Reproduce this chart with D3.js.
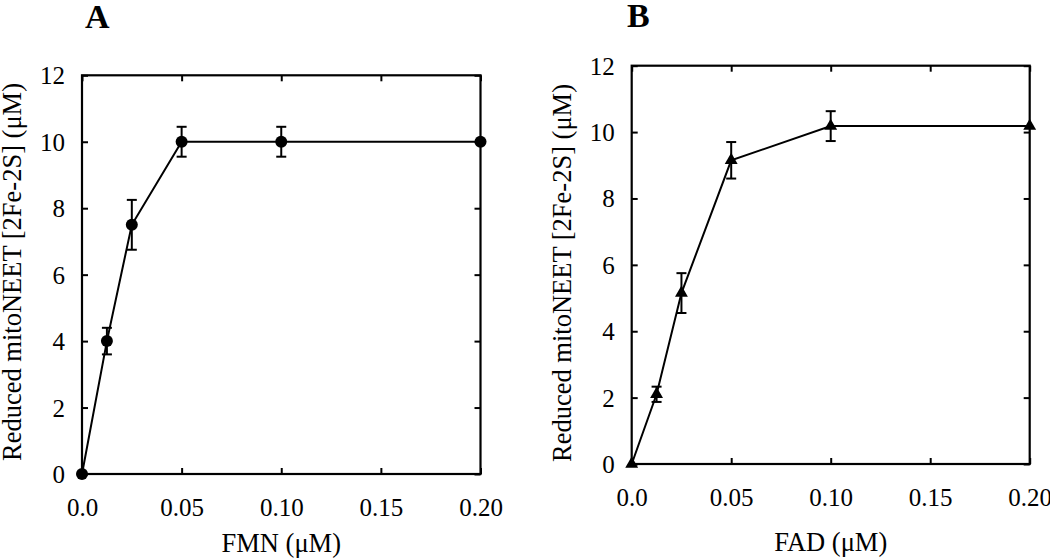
<!DOCTYPE html>
<html><head><meta charset="utf-8">
<script src="https://cdn.jsdelivr.net/npm/d3@7"></script>
<style>body{margin:0;background:#fff}svg{display:block}text{font-family:"Liberation Serif","Times New Roman",serif;fill:#000}</style>
</head><body><svg id="c" width="1050" height="558"></svg>
<script>
const xTicks = [0, 0.05, 0.10, 0.15, 0.20];
const xTickLabels = ["0.0", "0.05", "0.10", "0.15", "0.20"];
const yTicks = [0, 2, 4, 6, 8, 10, 12];
const concA = [0, 0.0125, 0.025, 0.05, 0.10, 0.20];
const valuesA = [0, 4.0, 7.5, 10.0, 10.0, 10.0];
const errorsA = [0, 0.4, 0.75, 0.45, 0.45, 0];
const concB = [0, 0.0125, 0.025, 0.05, 0.10, 0.20];
const valuesB = [0, 2.1, 5.15, 9.15, 10.18, 10.18];
const errorsB = [0, 0.23, 0.6, 0.55, 0.45, 0];
const panels = [
  {label:"A", xTitle:"FMN (\u03bcM)", x:concA, y:valuesA, e:errorsA, marker:"circle",
   box:{l:82, r:480.5, t:75.3, b:474}, labelPos:[85,28], yTitlePos:[21,272], xTitleY:552},
  {label:"B", xTitle:"FAD (\u03bcM)", x:concB, y:valuesB, e:errorsB, marker:"triangle",
   box:{l:631.7, r:1029.7, t:65.7, b:464}, labelPos:[627,27], yTitlePos:[571,273], xTitleY:551}
];
const yTitle = "Reduced mitoNEET [2Fe-2S] (\u03bcM)";
const FONT = '"Liberation Serif","Times New Roman",serif';
const svg = d3.select("#c");
panels.forEach(p => {
  const g = svg.append("g");
  const x = d3.scaleLinear().domain([0,0.2]).range([p.box.l,p.box.r]);
  const y = d3.scaleLinear().domain([0,12]).range([p.box.b,p.box.t]);
  const W = p.box.r-p.box.l, H = p.box.b-p.box.t;
  const fs = "25px";
  const ax = g.append("g").attr("transform",`translate(0,${p.box.b})`)
    .call(d3.axisBottom(x).tickValues(xTicks).tickFormat((d,i)=>xTickLabels[i]).tickSizeInner(-6).tickSizeOuter(0).tickPadding(24));
  const ay = g.append("g").attr("transform",`translate(${p.box.l},0)`)
    .call(d3.axisLeft(y).tickValues(yTicks).tickSizeInner(-6).tickSizeOuter(0).tickPadding(17));
  const at = g.append("g").attr("transform",`translate(0,${p.box.t})`)
    .call(d3.axisTop(x).tickValues(xTicks).tickFormat("").tickSizeInner(-6).tickSizeOuter(0));
  const ar = g.append("g").attr("transform",`translate(${p.box.r},0)`)
    .call(d3.axisRight(y).tickValues(yTicks).tickFormat("").tickSizeInner(-6).tickSizeOuter(0));
  [ax,ay,at,ar].forEach(a=>{a.attr("font-family",FONT);a.select(".domain").remove();
    a.selectAll("line").attr("stroke","#000").attr("stroke-width",2);
    a.selectAll("text").style("font-size",fs).attr("fill","#000");});
  ax.selectAll("text").attr("dy","0.7em");
  ay.selectAll("text").attr("dy","0.34em");
  g.append("rect").attr("x",p.box.l).attr("y",p.box.t).attr("width",W).attr("height",H)
    .attr("fill","none").attr("stroke","#000").attr("stroke-width",2.2);
  const pts = p.x.map((d,i)=>({x:d,y:p.y[i],e:p.e[i]}));
  g.append("path").datum(pts).attr("fill","none").attr("stroke","#000").attr("stroke-width",2)
    .attr("d",d3.line().x(d=>x(d.x)).y(d=>y(d.y)));
  const eb = g.selectAll(".eb").data(pts.filter(d=>d.e>0)).enter().append("g");
  eb.append("line").attr("x1",d=>x(d.x)).attr("x2",d=>x(d.x)).attr("y1",d=>y(d.y-d.e)).attr("y2",d=>y(d.y+d.e))
    .attr("stroke","#000").attr("stroke-width",2);
  [1,-1].forEach(s=>eb.append("line").attr("x1",d=>x(d.x)-5).attr("x2",d=>x(d.x)+5)
    .attr("y1",d=>y(d.y+s*d.e)).attr("y2",d=>y(d.y+s*d.e)).attr("stroke","#000").attr("stroke-width",2));
  const sym = p.marker==="circle" ? d3.symbol().type(d3.symbolCircle).size(Math.PI*6*6)
                                  : d3.symbol().type(d3.symbolTriangle).size(72);
  g.selectAll(".m").data(pts).enter().append("path")
    .attr("transform",d=>`translate(${x(d.x)},${y(d.y)})`).attr("d",sym).attr("fill","#000");
  g.append("text").attr("x",(p.box.l+p.box.r)/2).attr("y",p.xTitleY).attr("text-anchor","middle")
    .style("font-size","26.5px").text(p.xTitle);
  g.append("text").attr("transform",`translate(${p.yTitlePos[0]},${p.yTitlePos[1]}) rotate(-90)`)
    .attr("text-anchor","middle").style("font-size","26.5px").text(yTitle);
  g.append("text").attr("x",p.labelPos[0]).attr("y",p.labelPos[1]).style("font-size","34px")
    .style("font-weight","bold").text(p.label);
});
</script></body></html>
